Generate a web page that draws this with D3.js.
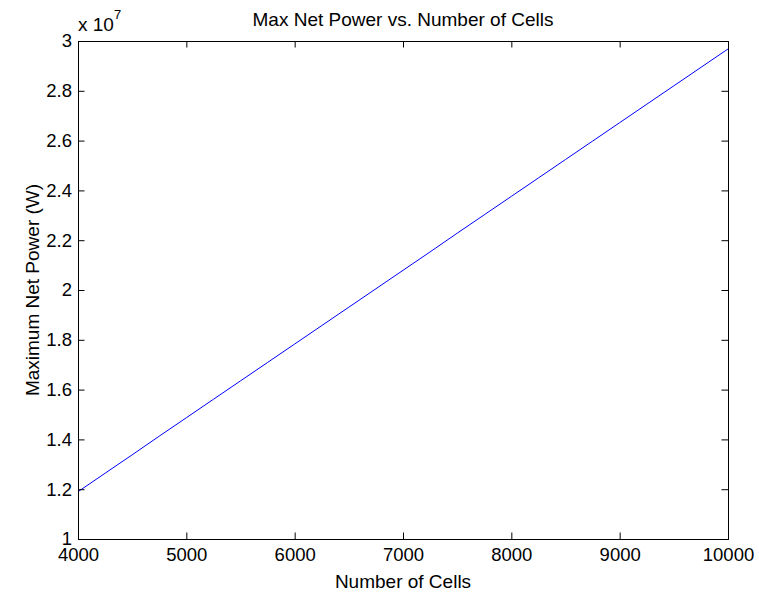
<!DOCTYPE html>
<html><head><meta charset="utf-8">
<script src="https://cdn.jsdelivr.net/npm/d3@7/dist/d3.min.js"></script>
<style>
html,body{margin:0;padding:0;background:#fff;}
text{font-family:"Liberation Sans",Arial,Helvetica,sans-serif;fill:#000;}
</style></head>
<body>
<script>
// Data (power in units of 1e7 W)
const cells = [4000,4250,4500,4750,5000,5250,5500,5750,6000,6250,6500,6750,7000,7250,7500,7750,8000,8250,8500,8750,9000,9250,9500,9750,10000];
const power = [1.190,1.264,1.338,1.413,1.487,1.561,1.635,1.709,1.783,1.857,1.931,2.005,2.079,2.153,2.228,2.302,2.376,2.450,2.524,2.598,2.672,2.746,2.820,2.894,2.968];
const xTicks = [4000,5000,6000,7000,8000,9000,10000];
const yTicks = [1,1.2,1.4,1.6,1.8,2,2.2,2.4,2.6,2.8,3];
const yTickLabels = ["1","1.2","1.4","1.6","1.8","2","2.2","2.4","2.6","2.8","3"];

const W = 759, H = 597;
const L = 78, R = 728, T = 41, B = 539;
const fsTick = 18.5, fsText = 19;

const svg = d3.select("body").append("svg").attr("width", W).attr("height", H);

const x = d3.scaleLinear().domain([4000, 10000]).range([L, R]);
const y = d3.scaleLinear().domain([1, 3]).range([B, T]);

// line
svg.append("path")
  .datum(cells.map((c, i) => [c, power[i]]))
  .attr("fill", "none")
  .attr("stroke", "#0000ff")
  .attr("stroke-width", 1)
  .attr("d", d3.line().x(d => x(d[0])).y(d => y(d[1])));

const tl = 6.5;
const xb = svg.append("g").attr("transform", `translate(0,${B})`)
  .call(d3.axisBottom(x).tickValues(xTicks).tickSize(-tl).tickPadding(9).tickFormat(d3.format("d")));
const xt = svg.append("g").attr("transform", `translate(0,${T})`)
  .call(d3.axisTop(x).tickValues(xTicks).tickSize(-tl).tickFormat(""));
const yl = svg.append("g").attr("transform", `translate(${L},0)`)
  .call(d3.axisLeft(y).tickValues(yTicks).tickSize(-tl).tickPadding(6).tickFormat((d, i) => yTickLabels[i]));
const yr = svg.append("g").attr("transform", `translate(${R},0)`)
  .call(d3.axisRight(y).tickValues(yTicks).tickSize(-tl).tickFormat(""));

[xb, xt, yl, yr].forEach(g => {
  g.select(".domain").attr("stroke", "#000").attr("stroke-width", 1);
  g.selectAll(".tick line").attr("stroke", "#000").attr("stroke-width", 1);
  g.selectAll("text").attr("font-size", fsTick).attr("font-family", '"Liberation Sans",Arial,sans-serif').attr("fill", "#000");
});
xb.selectAll(".tick text").attr("dy", "0.71em");

// exponent label
const ex = svg.append("text").attr("x", L).attr("y", 31).attr("font-size", fsText);
ex.append("tspan").text("x 10");
ex.append("tspan").attr("dy", -12.5).attr("font-size", 13).text("7");

// title
svg.append("text").attr("x", (L + R) / 2).attr("y", 26).attr("text-anchor", "middle")
  .attr("font-size", fsText).text("Max Net Power vs. Number of Cells");
// x label
svg.append("text").attr("x", (L + R) / 2).attr("y", 588).attr("text-anchor", "middle")
  .attr("font-size", fsText).text("Number of Cells");
// y label
svg.append("text").attr("transform", `translate(39,${(T + B) / 2}) rotate(-90)`).attr("text-anchor", "middle")
  .attr("font-size", fsText).text("Maximum Net Power (W)");
</script>
</body></html>
